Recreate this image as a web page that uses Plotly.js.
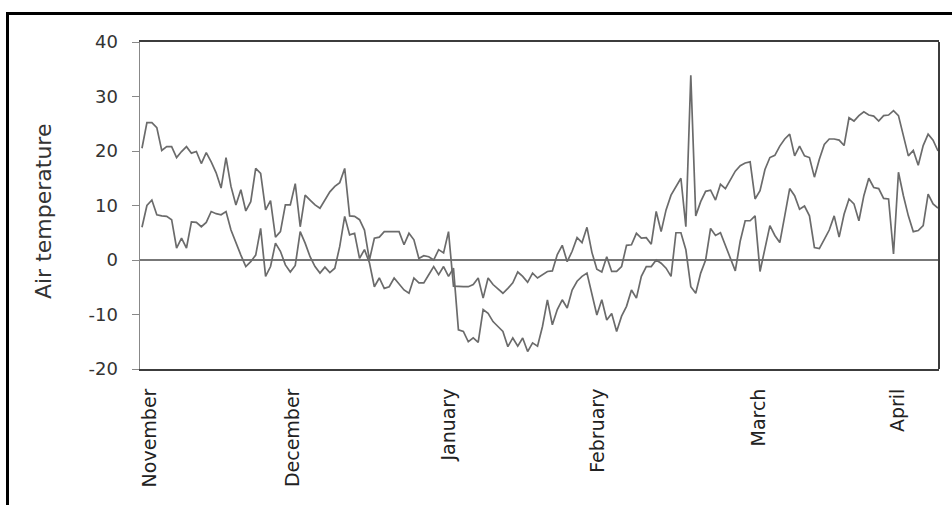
<!DOCTYPE html>
<html>
<head>
<meta charset="utf-8">
<script src="https://cdn.plot.ly/plotly-3.0.1.min.js"></script>
<style>
  html, body { margin: 0; padding: 0; background: #fff; }
  #wrap { position: relative; width: 952px; height: 505px; overflow: hidden; }
  #chart { position: absolute; left: 0; top: 0; width: 952px; height: 505px; }
  #frame {
    position: absolute; left: 6px; top: 12px; width: 980px; height: 520px;
    border-top: 3px solid #000; border-left: 3px solid #000;
    pointer-events: none;
  }
</style>
</head>
<body>
<div id="wrap">
  <div id="chart"></div>
  <div id="frame"></div>
</div>
<script>
// Daily air temperature, 1 November to early April (day 0 = 1 November)
const dailyMax = [
  20.5, 25.2, 25.2, 24.3, 20.1, 20.8, 20.8, 18.8, 19.9, 20.8,
  19.6, 19.9, 17.7, 19.7, 18.0, 16.0, 13.2, 18.8, 13.5, 10.1,
  12.9, 9.0, 10.7, 16.8, 15.9, 9.2, 10.9, 4.2, 5.2, 10.1,
  10.1, 14.0, 6.1, 11.9, 11.0, 10.1, 9.5, 11.0, 12.5, 13.5,
  14.2, 16.8, 8.1, 8.0, 7.4, 5.5, 0.0, 4.0, 4.2, 5.2,
  5.2, 5.2, 5.2, 2.8, 4.9, 3.7, 0.3, 0.8, 0.6, 0.0,
  1.9, 1.3, 5.2, -4.8, -4.9, -4.9, -4.9, -4.5, -3.3, -7.0,
  -3.3, -4.5, -5.3, -6.1, -5.2, -4.2, -2.2, -3.0, -4.1, -2.4,
  -3.3, -2.7, -2.1, -2.0, 1.0, 2.7, -0.3, 1.6, 4.1, 3.2,
  6.0, 1.4, -1.7, -2.2, 0.6, -2.1, -2.1, -1.2, 2.7, 2.8,
  4.9, 4.0, 4.1, 2.9, 8.9, 5.2, 9.2, 11.9, 13.5, 15.0,
  6.1, 33.9, 8.1, 10.7, 12.6, 12.8, 11.0, 13.9, 13.1, 14.8,
  16.3, 17.3, 17.8, 18.0, 11.2, 12.7, 16.6, 18.8, 19.2, 20.9,
  22.2, 23.1, 19.1, 20.9, 19.1, 18.8, 15.2, 18.5, 21.2, 22.2,
  22.2, 22.0, 21.0, 26.1, 25.5, 26.5, 27.2, 26.6, 26.4, 25.5,
  26.5, 26.6, 27.4, 26.5, 22.8, 19.1, 20.1, 17.4, 21.0, 23.1,
  22.0, 20.0
];

const dailyMin = [
  6.0, 10.0, 11.0, 8.3, 8.1, 8.0, 7.4, 2.2, 4.0, 2.2,
  7.0, 6.9, 6.1, 6.9, 8.9, 8.5, 8.3, 8.9, 5.5, 3.1,
  0.9, -1.2, -0.3, 0.9, 5.8, -3.0, -1.2, 3.1, 1.6, -0.9,
  -2.2, -1.0, 5.2, 3.1, 0.6, -1.2, -2.4, -1.3, -2.3, -1.5,
  2.5, 8.0, 4.6, 4.9, 0.3, 1.9, -0.5, -4.9, -3.3, -5.2,
  -4.9, -3.3, -4.5, -5.5, -6.1, -3.3, -4.2, -4.2, -2.7, -1.2,
  -2.7, -1.2, -3.0, -1.5, -12.8, -13.1, -15.0, -14.3, -15.1, -9.1,
  -9.8, -11.3, -12.2, -13.1, -15.9, -14.3, -15.8, -14.3, -16.8, -15.2,
  -15.8, -12.2, -7.3, -11.9, -9.1, -7.3, -8.8, -5.5, -3.9, -3.0,
  -2.4, -6.1, -10.1, -7.3, -11.0, -9.8, -13.1, -10.3, -8.5, -5.5,
  -7.0, -3.0, -1.2, -1.2, 0.0, -0.6, -1.5, -3.0, 5.0, 5.0,
  1.9, -4.9, -6.1, -2.4, 0.0, 5.8, 4.5, 5.0, 2.6, 0.5,
  -2.0, 3.5, 7.2, 7.2, 8.1, -2.1, 2.0, 6.3, 4.5, 3.2,
  8.1, 13.1, 11.8, 9.3, 9.9, 8.1, 2.3, 2.1, 3.8, 5.5,
  8.1, 4.2, 8.4, 11.2, 10.3, 7.2, 11.8, 15.0, 13.3, 13.1,
  11.3, 11.2, 1.1, 16.1, 11.8, 8.1, 5.2, 5.4, 6.3, 12.1,
  10.3, 9.5
];

// Month names and the day index under which each one is written
const monthLabels = ['November', 'December', 'January', 'February', 'March', 'April'];
const monthTickDay = [1.6, 30.5, 62.1, 92.2, 124.8, 152.9];

// Temperature axis ticks, written with a plain hyphen
const tempTicks = [-20, -10, 0, 10, 20, 30, 40];
const tempTickText = ['-20', '-10', '0', '10', '20', '30', '40'];

const dayIndex = dailyMax.map((_, i) => i);

const lineStyle = { color: '#6b6b6b', width: 1.7 };

const traces = [
  { x: dayIndex, y: dailyMax, type: 'scatter', mode: 'lines', name: 'Max', line: lineStyle, hoverinfo: 'y' },
  { x: dayIndex, y: dailyMin, type: 'scatter', mode: 'lines', name: 'Min', line: lineStyle, hoverinfo: 'y' }
];

const layout = {
  width: 952,
  height: 505,
  margin: { l: 140, r: 13, t: 42, b: 136 },
  paper_bgcolor: '#ffffff',
  plot_bgcolor: '#ffffff',
  showlegend: false,
  xaxis: {
    range: [-0.4, 161.2],
    tickmode: 'array',
    tickvals: monthTickDay,
    ticktext: monthLabels,
    tickangle: -90,
    ticks: '',
    ticklabelstandoff: 10,
    showgrid: false,
    zeroline: false,
    showline: true,
    linecolor: '#3c3c3c',
    linewidth: 2,
    mirror: true,
    tickfont: { family: 'DejaVu Sans', size: 19, color: '#222' }
  },
  yaxis: {
    range: [-20, 40],
    tickmode: 'array',
    tickvals: tempTicks,
    ticktext: tempTickText,
    ticks: 'outside',
    ticklen: 7,
    tickwidth: 1,
    tickcolor: '#888',
    ticklabelstandoff: 10,
    showgrid: false,
    zeroline: true,
    zerolinecolor: '#777',
    zerolinewidth: 1.2,
    showline: true,
    linecolor: '#888',
    linewidth: 1.5,
    tickfont: { family: 'DejaVu Sans', size: 18, color: '#333' }
  },
  shapes: [
    { type: 'line', xref: 'paper', yref: 'paper', x0: 1, x1: 1, y0: 0, y1: 1,
      line: { color: '#3c3c3c', width: 2 } }
  ],
  annotations: [
    { text: 'Air temperature', xref: 'paper', yref: 'paper', x: -0.1214, y: 0.48,
      xanchor: 'center', yanchor: 'middle', textangle: -90, showarrow: false,
      font: { family: 'DejaVu Sans', size: 22, color: '#333' } }
  ]
};

Plotly.newPlot('chart', traces, layout, { displayModeBar: false, staticPlot: true });
</script>
</body>
</html>
